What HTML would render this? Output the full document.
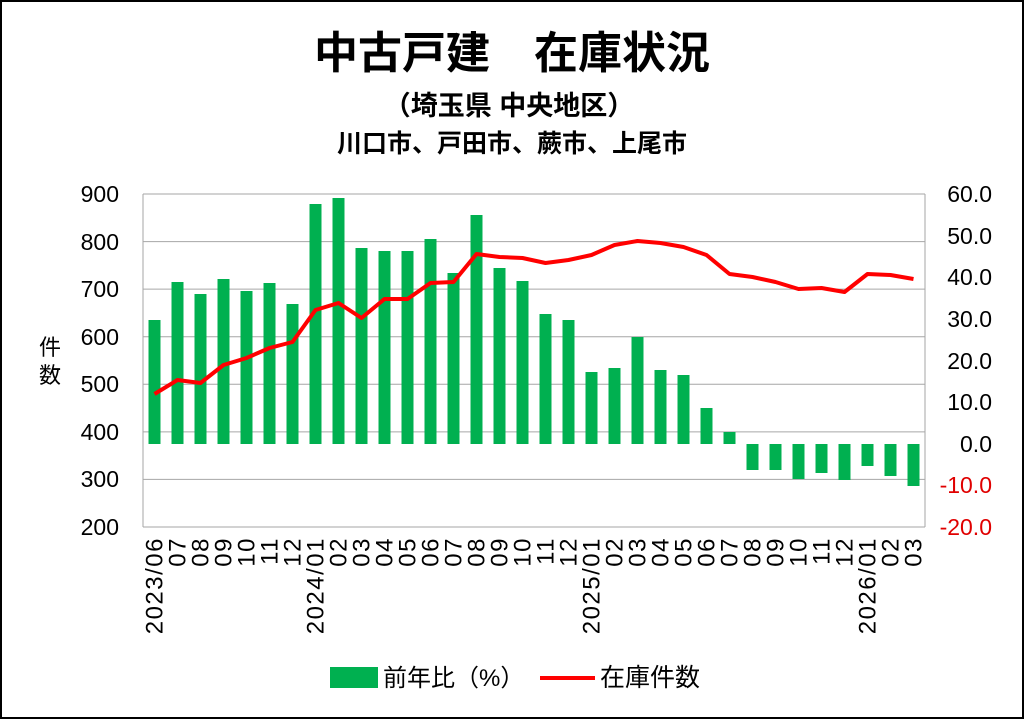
<!DOCTYPE html>
<html><head><meta charset="utf-8"><style>
html,body{margin:0;padding:0;background:#fff}
svg{display:block}
text{font-family:"Liberation Sans","Noto Sans CJK JP",sans-serif}
</style></head><body>
<svg width="1024" height="719" viewBox="0 0 1024 719" xmlns="http://www.w3.org/2000/svg">
<rect x="1" y="1" width="1022" height="717" fill="#fff" stroke="#000" stroke-width="2"/>
<text x="512" y="68" font-size="44" font-weight="bold" text-anchor="middle">中古戸建　在庫状況</text>
<text x="509" y="115" font-size="27" font-weight="bold" text-anchor="middle">（埼玉県 中央地区）</text>
<text x="512" y="152" font-size="25" font-weight="bold" text-anchor="middle">川口市、戸田市、蕨市、上尾市</text>
<g stroke="#a6a6a6" stroke-width="1">
<line x1="143" x2="925" y1="194" y2="194"/><line x1="143" x2="925" y1="241.6" y2="241.6"/>
<line x1="143" x2="925" y1="289.1" y2="289.1"/><line x1="143" x2="925" y1="336.7" y2="336.7"/>
<line x1="143" x2="925" y1="384.3" y2="384.3"/><line x1="143" x2="925" y1="431.9" y2="431.9"/>
<line x1="143" x2="925" y1="479.4" y2="479.4"/><line x1="143" x2="925" y1="527" y2="527"/>
<line x1="143" x2="143" y1="194" y2="527"/><line x1="925" x2="925" y1="194" y2="527"/>
</g>
<g font-size="23" text-anchor="end">
<text x="119" y="202">900</text><text x="119" y="250">800</text><text x="119" y="297">700</text>
<text x="119" y="345">600</text><text x="119" y="392">500</text><text x="119" y="440">400</text>
<text x="119" y="487">300</text><text x="119" y="535">200</text>
</g>
<g font-size="23" text-anchor="end">
<text x="992" y="202">60.0</text><text x="992" y="244">50.0</text><text x="992" y="285">40.0</text>
<text x="992" y="327">30.0</text><text x="992" y="369">20.0</text><text x="992" y="410">10.0</text>
<text x="992" y="452">0.0</text><text x="992" y="493" fill="#e00000">-10.0</text><text x="992" y="535" fill="#e00000">-20.0</text>
</g>
<text x="50" y="355" font-size="22" text-anchor="middle">件</text>
<text x="50" y="383" font-size="22" text-anchor="middle">数</text>
<g fill="#00b050" id="bars"></g>
<polyline id="line" fill="none" stroke="#ff0000" stroke-width="4" stroke-linejoin="round"/>
<g id="xl" font-size="24" letter-spacing="1.5"></g>
<rect x="330" y="667" width="48" height="21" fill="#00b050"/>
<text x="383" y="686" font-size="24">前年比（%）</text>
<line x1="540" x2="595" y1="678" y2="678" stroke="#ff0000" stroke-width="4"/>
<text x="600" y="686" font-size="25">在庫件数</text>
<script>
var tops=[320,282,294,279,291,283,304,204,198,248,251,251,239,273,215,268,281,314,320,372,368,337,370,375,408,432,470,470,479,473,480,466,476,486];
var ly=[394,380,383,365,358,348,342,310,303,318,299,299,283,282,254,257,258,263,260,255,245,241,243,247,255,274,277,282,289,288,292,274,275,279];
var labs=["2023/06","07","08","09","10","11","12","2024/01","02","03","04","05","06","07","08","09","10","11","12","2025/01","02","03","04","05","06","07","08","09","10","11","12","2026/01","02","03"];
var ns="http://www.w3.org/2000/svg",b=document.getElementById("bars"),xl=document.getElementById("xl"),pts=[];
for(var i=0;i<34;i++){var c=154.5+23*i;var r=document.createElementNS(ns,"rect");
var y0=Math.min(tops[i],444),h=Math.abs(tops[i]-444);
r.setAttribute("x",c-6);r.setAttribute("y",y0);r.setAttribute("width",12);r.setAttribute("height",h);b.appendChild(r);
pts.push(c+","+ly[i]);
var t=document.createElementNS(ns,"text");t.setAttribute("x",0);t.setAttribute("y",0);t.setAttribute("text-anchor","end");
t.setAttribute("transform","translate("+(c+8)+",537) rotate(-90)");t.textContent=labs[i];xl.appendChild(t);}
document.getElementById("line").setAttribute("points",pts.join(" "));
</script>
</svg>
</body></html>
